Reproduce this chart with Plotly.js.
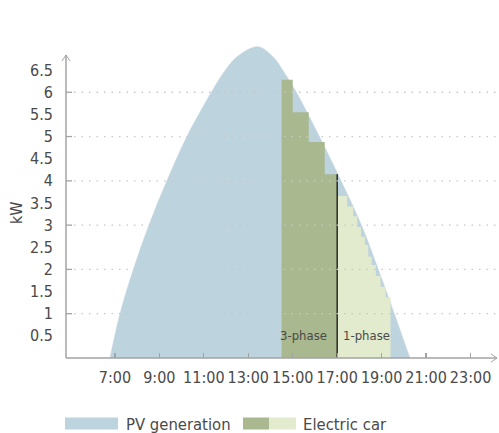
<!DOCTYPE html>
<html>
<head>
<meta charset="utf-8">
<script src="https://cdn.plot.ly/plotly-3.0.1.min.js"></script>
<style>html,body{margin:0;padding:0;background:#fff;}#chart{width:499px;height:433px;}</style>
</head>
<body>
<div id="chart"></div>
<script>
// ---- data ----
const pvHours = [6.78, 7.23, 7.83, 8.53, 9.34, 10.24, 11.34, 11.86, 12.49, 13.43, 14.11, 14.65, 15.16, 16.20, 17.17, 18.09, 18.85, 19.57, 20.27];
const pvKW    = [0,    1,    2,    3,    4,    5,     6,     6.42,  6.80,  7.03,  6.80,  6.42,  6.00,  5.00,  4.00,  3.00,  2.00,  1.00,  0];

const threePhaseStart = [14.5, 15.0, 15.72, 16.44];
const threePhaseKW    = [6.28, 5.55, 4.88, 4.15];
const threePhaseEnd   = 17.0;

const onePhaseStart = [17.0, 17.45, 17.72, 17.90, 18.07, 18.25, 18.40, 18.55, 18.74, 18.95, 19.18];
const onePhaseKW    = [3.66, 3.42, 3.20, 2.96, 2.74, 2.55, 2.29, 2.10, 1.85, 1.61, 1.37];
const onePhaseEnd   = 19.40;

const xTickVals = [7, 9, 11, 13, 15, 17, 19, 21, 23];
const xTickText = ['7:00', '9:00', '11:00', '13:00', '15:00', '17:00', '19:00', '21:00', '23:00'];
const yTickVals = [0.5, 1, 1.5, 2, 2.5, 3, 3.5, 4, 4.5, 5, 5.5, 6, 6.5];
const yTickText = ['0.5', '1', '1.5', '2', '2.5', '3', '3.5', '4', '4.5', '5', '5.5', '6', '6.5'];
const gridVals = [1, 2, 3, 4, 5, 6];

// ---- styling ----
const FONT = '"DejaVu Sans Condensed", "Liberation Sans Narrow", "Open Sans", sans-serif';
const TXT = '#4a4a4a';
const AXC = '#a3a3a3';
const PV_COL = '#bdd3de';
const P3_COL = '#a9b88e';
const P1_COL = '#e2ebcd';

const W = 499, H = 433, ML = 66, MR = 2, MT = 44, MB = 75;
const PW = W - ML - MR, PH = H - MT - MB;
const px = x => (x - ML) / PW;
const py = y => (H - MB - y) / PH;

function steps(starts, vals, end) {
  const xs = [starts[0]], ys = [0];
  for (let i = 0; i < starts.length; i++) { xs.push(starts[i]); ys.push(vals[i]); }
  xs.push(end); ys.push(0);
  return {xs, ys};
}
const s3 = steps(threePhaseStart, threePhaseKW, threePhaseEnd);
const s1 = steps(onePhaseStart, onePhaseKW, onePhaseEnd);

const traces = [
  {x: pvHours, y: pvKW, type: 'scatter', mode: 'lines', fill: 'tozeroy', fillcolor: PV_COL,
   line: {color: PV_COL, width: 0.5, shape: 'spline', smoothing: 1}, hoverinfo: 'skip'},
  {x: s3.xs, y: s3.ys, type: 'scatter', mode: 'lines', fill: 'tozeroy', fillcolor: P3_COL,
   line: {color: P3_COL, width: 0, shape: 'hv'}, hoverinfo: 'skip'},
  {x: s1.xs, y: s1.ys, type: 'scatter', mode: 'lines', fill: 'tozeroy', fillcolor: P1_COL,
   line: {color: P1_COL, width: 0, shape: 'hv'}, hoverinfo: 'skip'},
  {x: [threePhaseEnd, threePhaseEnd], y: [0, threePhaseKW[threePhaseKW.length - 1]], type: 'scatter', mode: 'lines',
   line: {color: '#111', width: 1.3}, hoverinfo: 'skip'}
];

const shapes = [];
// dotted gridlines (drawn above the areas) and short tick marks
gridVals.forEach(v => {
  shapes.push({type: 'line', xref: 'paper', yref: 'y', x0: px(74), x1: 1, y0: v, y1: v, layer: 'above',
               line: {color: '#c8c8c8', width: 1.3, dash: '1.5px,6px'}});
  shapes.push({type: 'line', xref: 'paper', yref: 'y', x0: 0, x1: px(72), y0: v, y1: v, layer: 'above',
               line: {color: AXC, width: 1.3}});
});
// axis lines with open arrow heads
shapes.push({type: 'line', xref: 'paper', yref: 'paper', x0: 0, x1: 0, y0: 0, y1: py(55), layer: 'above', line: {color: AXC, width: 1.5}});
shapes.push({type: 'path', xref: 'paper', yref: 'paper', layer: 'above', line: {color: AXC, width: 1},
             path: `M ${px(62)} ${py(61)} L ${px(66)} ${py(55)} L ${px(70)} ${py(61)}`});
shapes.push({type: 'line', xref: 'paper', yref: 'paper', x0: 0, x1: px(497), y0: 0, y1: 0, layer: 'above', line: {color: AXC, width: 1.5}});
shapes.push({type: 'path', xref: 'paper', yref: 'paper', layer: 'above', line: {color: AXC, width: 1},
             path: `M ${px(491)} ${py(354)} L ${px(497)} ${py(358)} L ${px(491)} ${py(362)}`});
// legend swatches
shapes.push({type: 'rect', xref: 'paper', yref: 'paper', x0: px(65), x1: px(118), y0: py(429.5), y1: py(417.5), fillcolor: PV_COL, line: {width: 0}});
shapes.push({type: 'rect', xref: 'paper', yref: 'paper', x0: px(243), x1: px(269), y0: py(429.5), y1: py(417.5), fillcolor: P3_COL, line: {width: 0}});
shapes.push({type: 'rect', xref: 'paper', yref: 'paper', x0: px(269), x1: px(296), y0: py(429.5), y1: py(417.5), fillcolor: P1_COL, line: {width: 0}});

const annotations = [
  {text: 'kW', xref: 'paper', yref: 'paper', x: px(16), y: py(213), textangle: -90, showarrow: false,
   font: {family: FONT, size: 16, color: TXT}, xanchor: 'center', yanchor: 'middle'},
  {text: '3-phase', xref: 'x', yref: 'y', x: threePhaseEnd, y: 0, xshift: -8, yshift: 23, showarrow: false,
   xanchor: 'right', yanchor: 'middle', font: {family: FONT, size: 13, color: TXT}},
  {text: '1-phase', xref: 'x', yref: 'y', x: threePhaseEnd, y: 0, xshift: 4, yshift: 23, showarrow: false,
   xanchor: 'left', yanchor: 'middle', font: {family: FONT, size: 13, color: TXT}},
  {text: 'PV generation', xref: 'paper', yref: 'paper', x: px(124), y: py(424), showarrow: false,
   xanchor: 'left', yanchor: 'middle', font: {family: FONT, size: 16.5, color: TXT}},
  {text: 'Electric car', xref: 'paper', yref: 'paper', x: px(301), y: py(424), showarrow: false,
   xanchor: 'left', yanchor: 'middle', font: {family: FONT, size: 16.5, color: TXT}}
];

const layout = {
  width: W, height: H,
  margin: {l: ML, r: MR, t: MT, b: MB, pad: 0},
  paper_bgcolor: '#fff', plot_bgcolor: '#fff',
  showlegend: false,
  font: {family: FONT, color: TXT},
  xaxis: {range: [4.8, 24.19], tickvals: xTickVals, ticktext: xTickText, ticks: 'inside', ticklen: 5,
          tickcolor: AXC, tickwidth: 1.3, showgrid: false, zeroline: false, showline: false,
          tickfont: {family: FONT, size: 16, color: TXT}, ticklabelstandoff: 8, fixedrange: true},
  yaxis: {range: [0, 7.09], tickvals: yTickVals, ticktext: yTickText, ticks: '', showgrid: false,
          zeroline: false, showline: false, tickfont: {family: FONT, size: 16, color: TXT},
          ticklabelstandoff: 12, fixedrange: true},
  shapes: shapes,
  annotations: annotations
};

Plotly.newPlot('chart', traces, layout, {displayModeBar: false, staticPlot: true});
</script>
</body>
</html>
